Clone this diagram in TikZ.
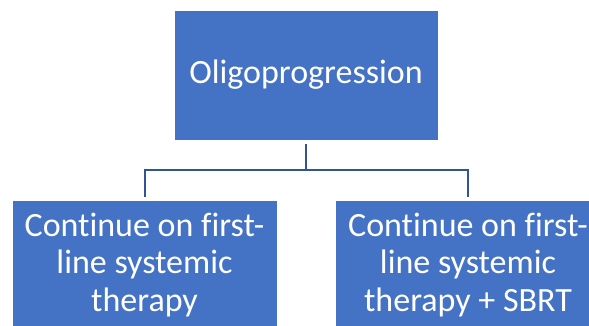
\documentclass[tikz,border=0pt]{standalone}
\usepackage{fontspec}
\setmainfont{Carlito}[Ligatures={NoCommon}]
\definecolor{boxblue}{HTML}{4472C4}
\definecolor{linkblue}{HTML}{2F5597}
\begin{document}
\begin{tikzpicture}[x=1pt,y=-1pt,
  box/.style={rectangle, fill=boxblue, draw=white, line width=0.6pt, inner sep=0pt,
    text=white, align=center, font=\fontsize{34}{37.5}\selectfont},
  link/.style={draw=linkblue, line width=2pt}]
\useasboundingbox (0,0) rectangle (589,325);
\clip (0,0) rectangle (589,325);
\node[box, minimum width=264pt, minimum height=130pt] (top) at (306,75) {Oligoprogression};
\node[box, minimum width=265pt, minimum height=130pt] (left) at (144.5,265) {Continue on first-\\line systemic\\therapy};
\node[box, minimum width=265pt, minimum height=130pt] (right) at (468,265) {Continue on first-\\line systemic\\therapy + SBRT};
\coordinate (j) at (306,170);
\draw[link] ([yshift=-4pt]top.south) -- (j);
\draw[link] ([yshift=3pt]left.north) |- (j) -| ([yshift=3pt]right.north);
\end{tikzpicture}
\end{document}
